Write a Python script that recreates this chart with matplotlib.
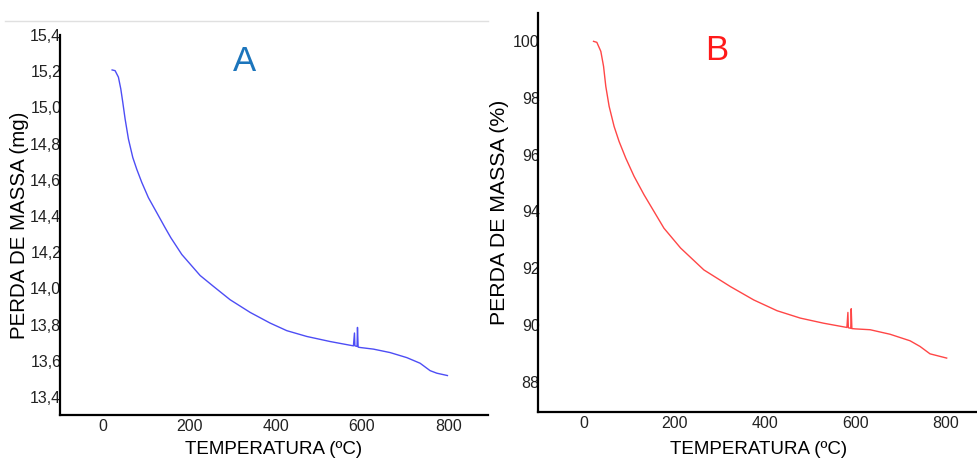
import numpy as np
import matplotlib.pyplot as plt
from matplotlib.lines import Line2D

plt.rcParams['font.family'] = ['Liberation Sans', 'DejaVu Sans']

# sample A: mass (mg) vs temperature
temp_a = [20.9, 27.8, 35.5, 41, 45.6, 51, 58.7, 68.8, 78, 89.7, 105, 124.4,
          143.7, 156.9, 182.4, 224.8, 255.6, 294.3, 340.7, 387, 425.7, 472,
          526, 580.1, 582.5, 583.5, 588.5, 589.5, 591, 595.6, 626.5, 665,
          703.8, 734.6, 757.8, 773.3, 797.9]
mass_a = [15.207, 15.203, 15.167, 15.102, 15.028, 14.936, 14.825, 14.723,
          14.658, 14.585, 14.501, 14.418, 14.335, 14.28, 14.187, 14.071,
          14.011, 13.937, 13.867, 13.808, 13.766, 13.734, 13.706, 13.682,
          13.753, 13.682, 13.679, 13.784, 13.675, 13.673, 13.664, 13.645,
          13.617, 13.586, 13.545, 13.531, 13.518]

# sample B: mass (%) vs temperature
temp_b = [22, 29.3, 38.1, 44.1, 49.1, 56.4, 67.4, 78.4, 93.2, 111.5, 133.5,
          155.5, 177.5, 214.3, 265.6, 324.4, 375.8, 427.3, 478.6, 530, 581.5,
          583.7, 584.7, 590, 591, 592.5, 599.8, 632.8, 676.9, 721, 743, 765,
          801.8]
mass_b = [100.0, 99.965, 99.647, 99.12, 98.41, 97.71, 97.0, 96.47, 95.88,
          95.24, 94.59, 94.0, 93.41, 92.71, 91.94, 91.35, 90.88, 90.50, 90.24,
          90.06, 89.91, 90.44, 89.9, 89.88, 90.57, 89.87, 89.86, 89.83, 89.67,
          89.44, 89.24, 88.98, 88.83]

xticks = [0, 200, 400, 600, 800]
yticks_a = [13.4, 13.6, 13.8, 14.0, 14.2, 14.4, 14.6, 14.8, 15.0, 15.2, 15.4]
ylabels_a = ['13,4', '13,6', '13,8', '14,0', '14,2', '14,4', '14,6', '14,8',
             '15,0', '15,2', '15,4']
yticks_b = [88, 90, 92, 94, 96, 98, 100]

fig = plt.figure(figsize=(9.78, 4.59), dpi=100)
ax1 = fig.add_axes([0.0613, 0.0959, 0.4377, 0.8278])
ax2 = fig.add_axes([0.5504, 0.1031, 0.4496, 0.8686])

# thin grey rule over the left panel
fig.add_artist(Line2D([0.005, 0.499], [1 - 21 / 459, 1 - 21 / 459],
                      color='#e0e0e0', lw=1))

ax1.plot(temp_a, mass_a, color='#4d4df5', lw=1)
ax1.set_xlim(-100, 892)
ax1.set_ylim(13.3, 15.4)
ax1.set_yticks(yticks_a)
ax1.set_yticklabels(ylabels_a)
ax1.set_ylabel('PERDA DE MASSA (mg)', fontsize=14.8, labelpad=1)
ax1.set_xlabel('TEMPERATURA (ºC)', fontsize=13.5, labelpad=5)
ax1.text(0.43, 0.93, 'A', transform=ax1.transAxes, color='#1c75bc',
         fontsize=25, ha='center', va='center')

ax2.plot(temp_b, mass_b, color='#ff4646', lw=1)
ax2.set_xlim(-100, 871)
ax2.set_ylim(86.94, 101.0)
ax2.set_yticks(yticks_b)
ax2.set_ylabel('PERDA DE MASSA (%)', fontsize=15.3, labelpad=3)
ax2.set_xlabel('TEMPERATURA (ºC)', fontsize=13.5, labelpad=7)
ax2.text(0.405, 0.905, 'B', transform=ax2.transAxes, color='#ff1a1a',
         fontsize=25, ha='center', va='center')

for ax in (ax1, ax2):
    ax.set_xticks(xticks)
    ax.spines['top'].set_visible(False)
    ax.spines['right'].set_visible(False)
    ax.spines['left'].set_linewidth(1.6)
    ax.spines['bottom'].set_linewidth(1.6)
    ax.tick_params(axis='both', length=0, labelsize=11.5, colors='#222222')
    ax.tick_params(axis='y', pad=-1)
    ax.tick_params(axis='x', pad=3)

fig.savefig('out.png', dpi=100)
